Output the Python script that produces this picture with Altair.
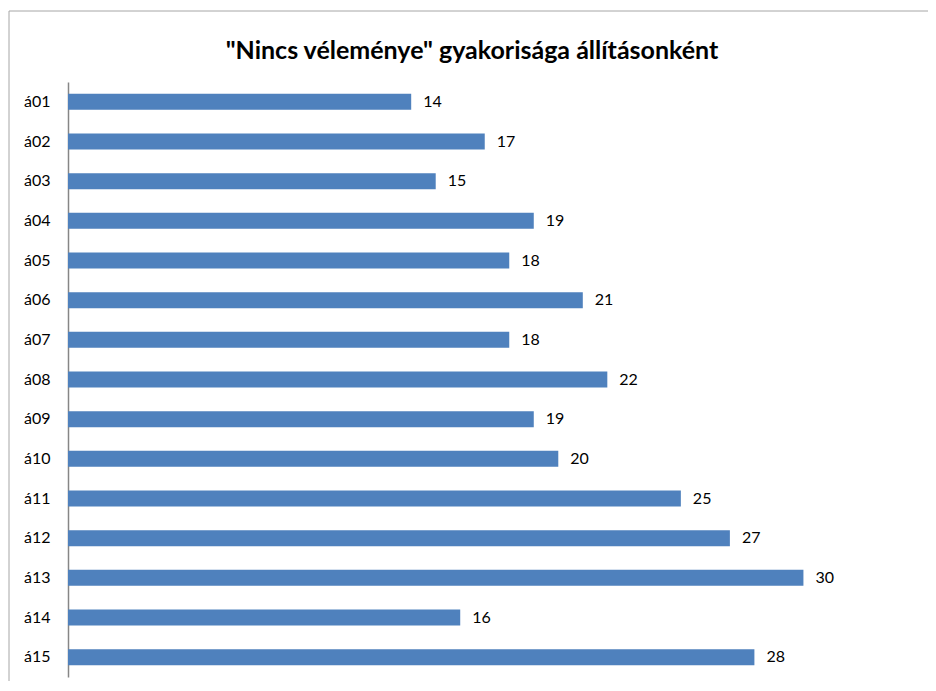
import altair as alt
import pandas as pd

categories = ["á01", "á02", "á03", "á04", "á05", "á06", "á07", "á08",
              "á09", "á10", "á11", "á12", "á13", "á14", "á15"]
values = [14, 17, 15, 19, 18, 21, 18, 22, 19, 20, 25, 27, 30, 16, 28]
title_text = '"Nincs véleménye" gyakorisága állításonként'

df = pd.DataFrame({"item": categories, "value": values})

FONT = "Lato"

y_enc = alt.Y("item:N", sort=categories,
              scale=alt.Scale(paddingInner=0, paddingOuter=0),
              axis=alt.Axis(title=None, ticks=False, grid=False,
                            domainColor="#868686", domainWidth=1.5,
                            labelFont=FONT, labelFontSize=16, labelColor="#000000",
                            labelPadding=18))
x_enc = alt.X("value:Q", scale=alt.Scale(domain=[0, 35], nice=False),
              axis=None)

bars = alt.Chart(df).mark_bar(color="#4F81BD", size=16).encode(x=x_enc, y=y_enc)
labels = alt.Chart(df).mark_text(align="left", baseline="middle", dx=12,
                                 font=FONT, fontSize=16, color="#000000").encode(
    x=x_enc, y=y_enc, text="value:Q")

border_top = alt.Chart(df.head(1)).mark_rule(color="#A6A6A6", strokeWidth=1).encode(
    x=alt.value(-59), x2=alt.value(900), y=alt.value(-71))
border_left = alt.Chart(df.head(1)).mark_rule(color="#A6A6A6", strokeWidth=1).encode(
    x=alt.value(-59), y=alt.value(-71), y2=alt.value(700))

chart = alt.layer(border_top, border_left, bars, labels).properties(
    width=858, height=595,
    autosize=alt.AutoSizeParams(type="none"),
    padding={"left": 60, "top": 74, "right": 2, "bottom": 4},
    title=alt.TitleParams(title_text, font=FONT, fontSize=25, fontWeight="bold",
                          color="#000000", anchor="middle", dx=-25, dy=96,
                          offset=18, baseline="bottom"),
).configure_view(stroke=None)

chart.save("out.html", embed_options={"renderer": "svg", "actions": False})
